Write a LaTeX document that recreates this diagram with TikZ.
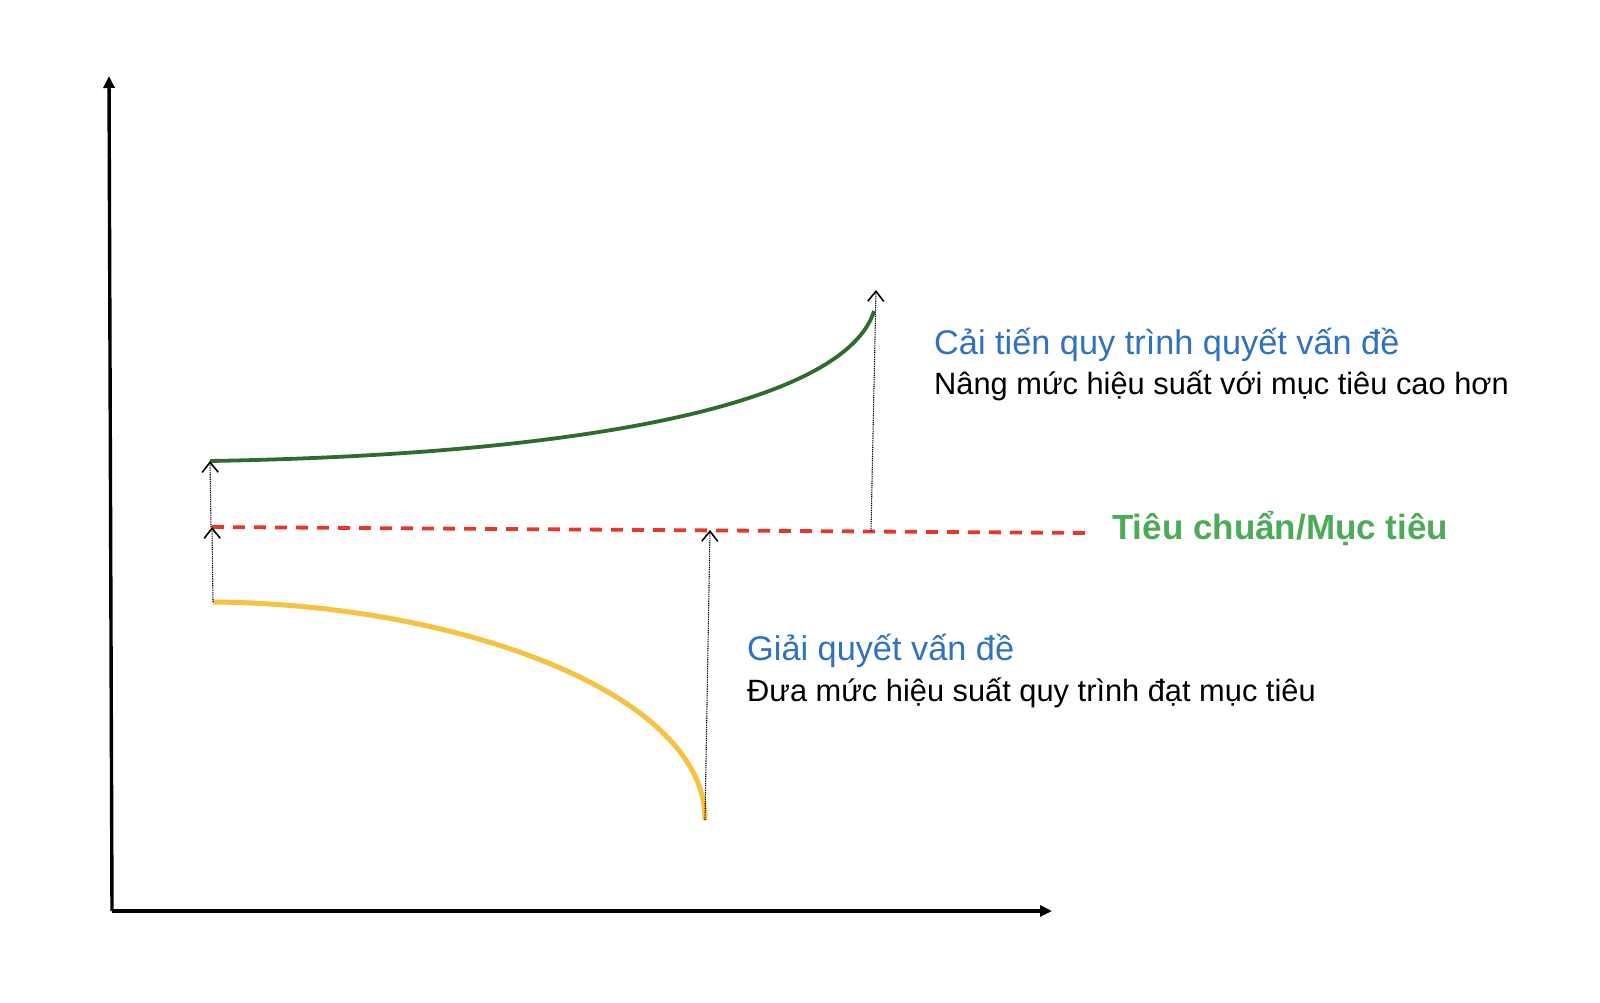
\documentclass[tikz,border=0pt]{standalone}
\usepackage{fontspec}
\setmainfont{Liberation Sans}
\usetikzlibrary{arrows.meta}
\definecolor{curvegreen}{HTML}{2E6B2C}
\definecolor{curveyellow}{HTML}{F5C242}
\definecolor{targetred}{HTML}{E8362B}
\definecolor{labelblue}{HTML}{2F72C2}
\definecolor{labelgreen}{HTML}{4DAA57}
\tikzset{
  axisline/.style={line width=3.4pt,-{Triangle[length=12pt,width=11pt]}},
  dotarrow/.style={line width=1.1pt,dash pattern=on 1pt off 0.8pt,-{Straight Barb[length=10pt,width=16pt,line width=1.6pt]}},
  targetline/.style={targetred,line width=3.8pt,dash pattern=on 12pt off 9pt},
  bluelabel/.style={labelblue,font=\fontsize{34.3pt}{40pt}\selectfont,anchor=base west,inner sep=0pt},
  blacklabel/.style={black,font=\fontsize{30.8pt}{36pt}\selectfont,anchor=base west,inner sep=0pt},
  greenlabel/.style={labelgreen,font=\fontsize{35pt}{40pt}\selectfont\bfseries,anchor=base west,inner sep=0pt}
}
\begin{document}
\begin{tikzpicture}[x=1pt,y=-1pt]
\useasboundingbox (0,0) rectangle (1600,1003);
\fill[white] (0,0) rectangle (1600,1003);
% axes
\coordinate (origin) at (112,911);
\coordinate (ytop) at (109,76);
\coordinate (xend) at (1052,911);
\draw[axisline] (origin) -- (ytop);
\draw[axisline] (origin) -- (xend);
% key points
\coordinate (gstart) at (210,461);
\coordinate (gend) at (874,311);
\coordinate (ystart) at (213,602);
\coordinate (yend) at (705,820);
\coordinate (rstart) at (212,527);
\coordinate (rend) at (1092,533);
\coordinate (rA) at (211,527);
\coordinate (rB) at (710,530);
\coordinate (rC) at (871,531);
\coordinate (gtip) at (876,290);
% target line
\draw[targetline] (rstart) -- (rend);
% green curve
\draw[curvegreen,line width=3.8pt] (gstart) .. controls (613,454) and (847,398) .. (gend);
% yellow curve
\draw[curveyellow,line width=5pt] (ystart) .. controls (460,604) and (706,694) .. (yend);
% dotted arrows
\draw[dotarrow] (ystart) -- (rstart);
\draw[dotarrow] (rA) -- (gstart);
\draw[dotarrow] (yend) -- (rB);
\draw[dotarrow] (rC) -- (gtip);
% labels
\node[bluelabel] (t1) at (934,354) {Cải tiến quy trình quyết vấn đề};
\node[blacklabel] (t2) at (934,394) {Nâng mức hiệu suất với mục tiêu cao hơn};
\node[greenlabel] (t3) at (1112,539) {Tiêu chuẩn/Mục tiêu};
\node[bluelabel] (t4) at (747,660) {Giải quyết vấn đề};
\node[blacklabel] (t5) at (747,701) {Đưa mức hiệu suất quy trình đạt mục tiêu};
\end{tikzpicture}
\end{document}
